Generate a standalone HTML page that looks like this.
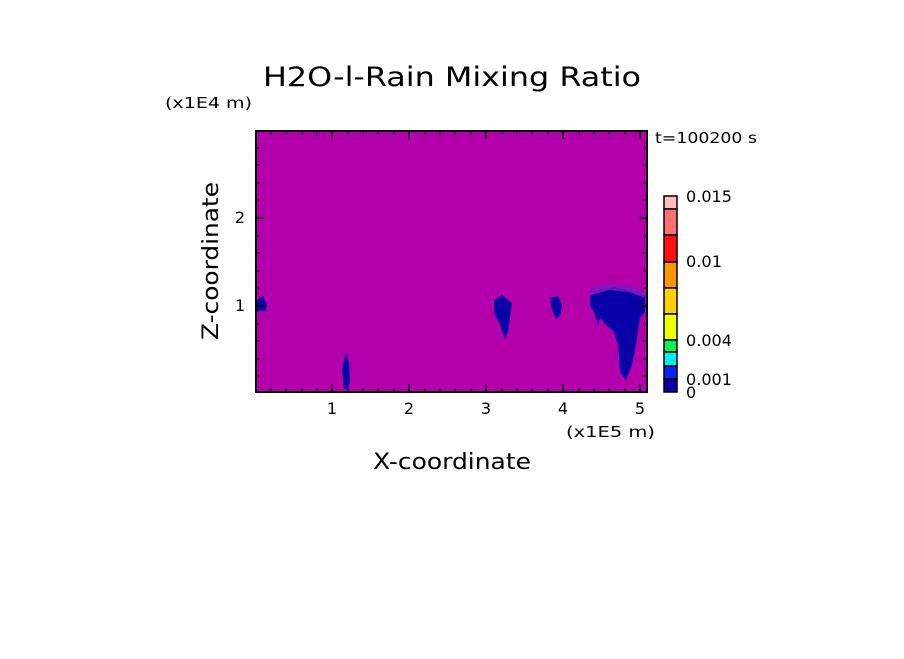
<!DOCTYPE html>
<html><head><style>
body{margin:0;background:#fff;}
svg text{font-family:"DejaVu Sans","Liberation Sans",sans-serif;fill:#000;}
</style></head><body>
<svg width="904" height="654" viewBox="0 0 904 654" xmlns="http://www.w3.org/2000/svg">
<rect width="904" height="654" fill="#fff"/>
<text x="452" y="86" font-size="27" text-anchor="middle" textLength="378" lengthAdjust="spacingAndGlyphs">H2O-l-Rain Mixing Ratio</text>
<text x="165" y="108" font-size="15" textLength="87" lengthAdjust="spacingAndGlyphs">(x1E4 m)</text>
<text x="655" y="143" font-size="15" textLength="102" lengthAdjust="spacingAndGlyphs">t=100200 s</text>
<rect x="256" y="131" width="391" height="261" fill="#b400aa"/>
<g fill="#0a00a8">
<path d="M257,300 L263,296 L267,304 L266,312 L262,310 L257,312Z"/>
<path d="M346,352 L349,362 L350,380 L348,390 L344,388 L342,370Z"/>
<path d="M494,300 L502,295 L512,303 L510,318 L508,332 L505,339 L500,325 L494,312Z"/>
<path d="M550,298 L558,296 L562,305 L560,316 L556,319 L552,310Z"/>
<path d="M590,296 L600,290 L615,287 L628,290 L645,296 L645,312 L640,318 L636,345 L632,365 L626,380 L620,372 L618,345 L614,332 L606,325 L600,318 L598,325 L594,312 L590,306Z"/>
</g>
<g fill="#7a1ac0" opacity="0.8">
<path d="M586,294 L596,286 L610,284 L630,286 L646,292 L646,298 L628,292 L610,290 L595,294Z"/>
</g>
<rect x="256" y="131" width="391" height="261" fill="none" stroke="#000" stroke-width="2"/>
<g stroke="#000" stroke-width="1.5">
<path d="M332,392v-8M409,392v-8M486,392v-8M563,392v-8M640,392v-8M332,131v8M409,131v8M486,131v8M563,131v8M640,131v8"/>
<path d="M256,306h8M256,218h8M647,306h-8M647,218h-8"/>
</g>
<g stroke="#000" stroke-width="1">
<path d="M271,392v-4M286,392v-4M302,392v-4M317,392v-4M348,392v-4M363,392v-4M378,392v-4M394,392v-4M425,392v-4M440,392v-4M455,392v-4M471,392v-4M502,392v-4M517,392v-4M532,392v-4M548,392v-4M579,392v-4M594,392v-4M609,392v-4M625,392v-4"/>
<path d="M271,131v4M286,131v4M302,131v4M317,131v4M348,131v4M363,131v4M378,131v4M394,131v4M425,131v4M440,131v4M455,131v4M471,131v4M502,131v4M517,131v4M532,131v4M548,131v4M579,131v4M594,131v4M609,131v4M625,131v4"/>
<path d="M256,376h4M256,359h4M256,341h4M256,324h4M256,288h4M256,271h4M256,253h4M256,236h4M256,200h4M256,183h4M256,165h4M256,148h4"/>
<path d="M647,376h-4M647,359h-4M647,341h-4M647,324h-4M647,288h-4M647,271h-4M647,253h-4M647,236h-4M647,200h-4M647,183h-4M647,165h-4M647,148h-4"/>
</g>
<g font-size="16" text-anchor="middle">
<text x="332" y="414">1</text><text x="409" y="414">2</text><text x="486" y="414">3</text><text x="563" y="414">4</text><text x="640" y="414">5</text>
</g>
<text x="240" y="311" font-size="16" text-anchor="middle">1</text>
<text x="240" y="223" font-size="16" text-anchor="middle">2</text>
<text x="566" y="437" font-size="15" textLength="89" lengthAdjust="spacingAndGlyphs">(x1E5 m)</text>
<text x="452" y="469" font-size="22" text-anchor="middle" textLength="158" lengthAdjust="spacingAndGlyphs">X-coordinate</text>
<text transform="translate(218,261) rotate(-90)" font-size="22" text-anchor="middle" textLength="158" lengthAdjust="spacingAndGlyphs">Z-coordinate</text>
<g stroke="#000" stroke-width="1.5">
<rect x="664" y="196" width="13" height="13" fill="#ffbcbc"/>
<rect x="664" y="209" width="13" height="26" fill="#ff7070"/>
<rect x="664" y="235" width="13" height="27" fill="#ff1010"/>
<rect x="664" y="262" width="13" height="26" fill="#ff9600"/>
<rect x="664" y="288" width="13" height="26" fill="#ffd000"/>
<rect x="664" y="314" width="13" height="26" fill="#f0ff00"/>
<rect x="664" y="340" width="13" height="12" fill="#10f050"/>
<rect x="664" y="352" width="13" height="14" fill="#00f0f0"/>
<rect x="664" y="366" width="13" height="13" fill="#0028ff"/>
<rect x="664" y="379" width="13" height="13" fill="#0a00a8"/>
</g>
<g font-size="16">
<text x="686" y="202" textLength="46" lengthAdjust="spacingAndGlyphs">0.015</text>
<text x="686" y="267" textLength="36" lengthAdjust="spacingAndGlyphs">0.01</text>
<text x="686" y="346" textLength="46" lengthAdjust="spacingAndGlyphs">0.004</text>
<text x="686" y="385" textLength="46" lengthAdjust="spacingAndGlyphs">0.001</text>
<text x="686" y="398">0</text>
</g>
</svg>
</body></html>
